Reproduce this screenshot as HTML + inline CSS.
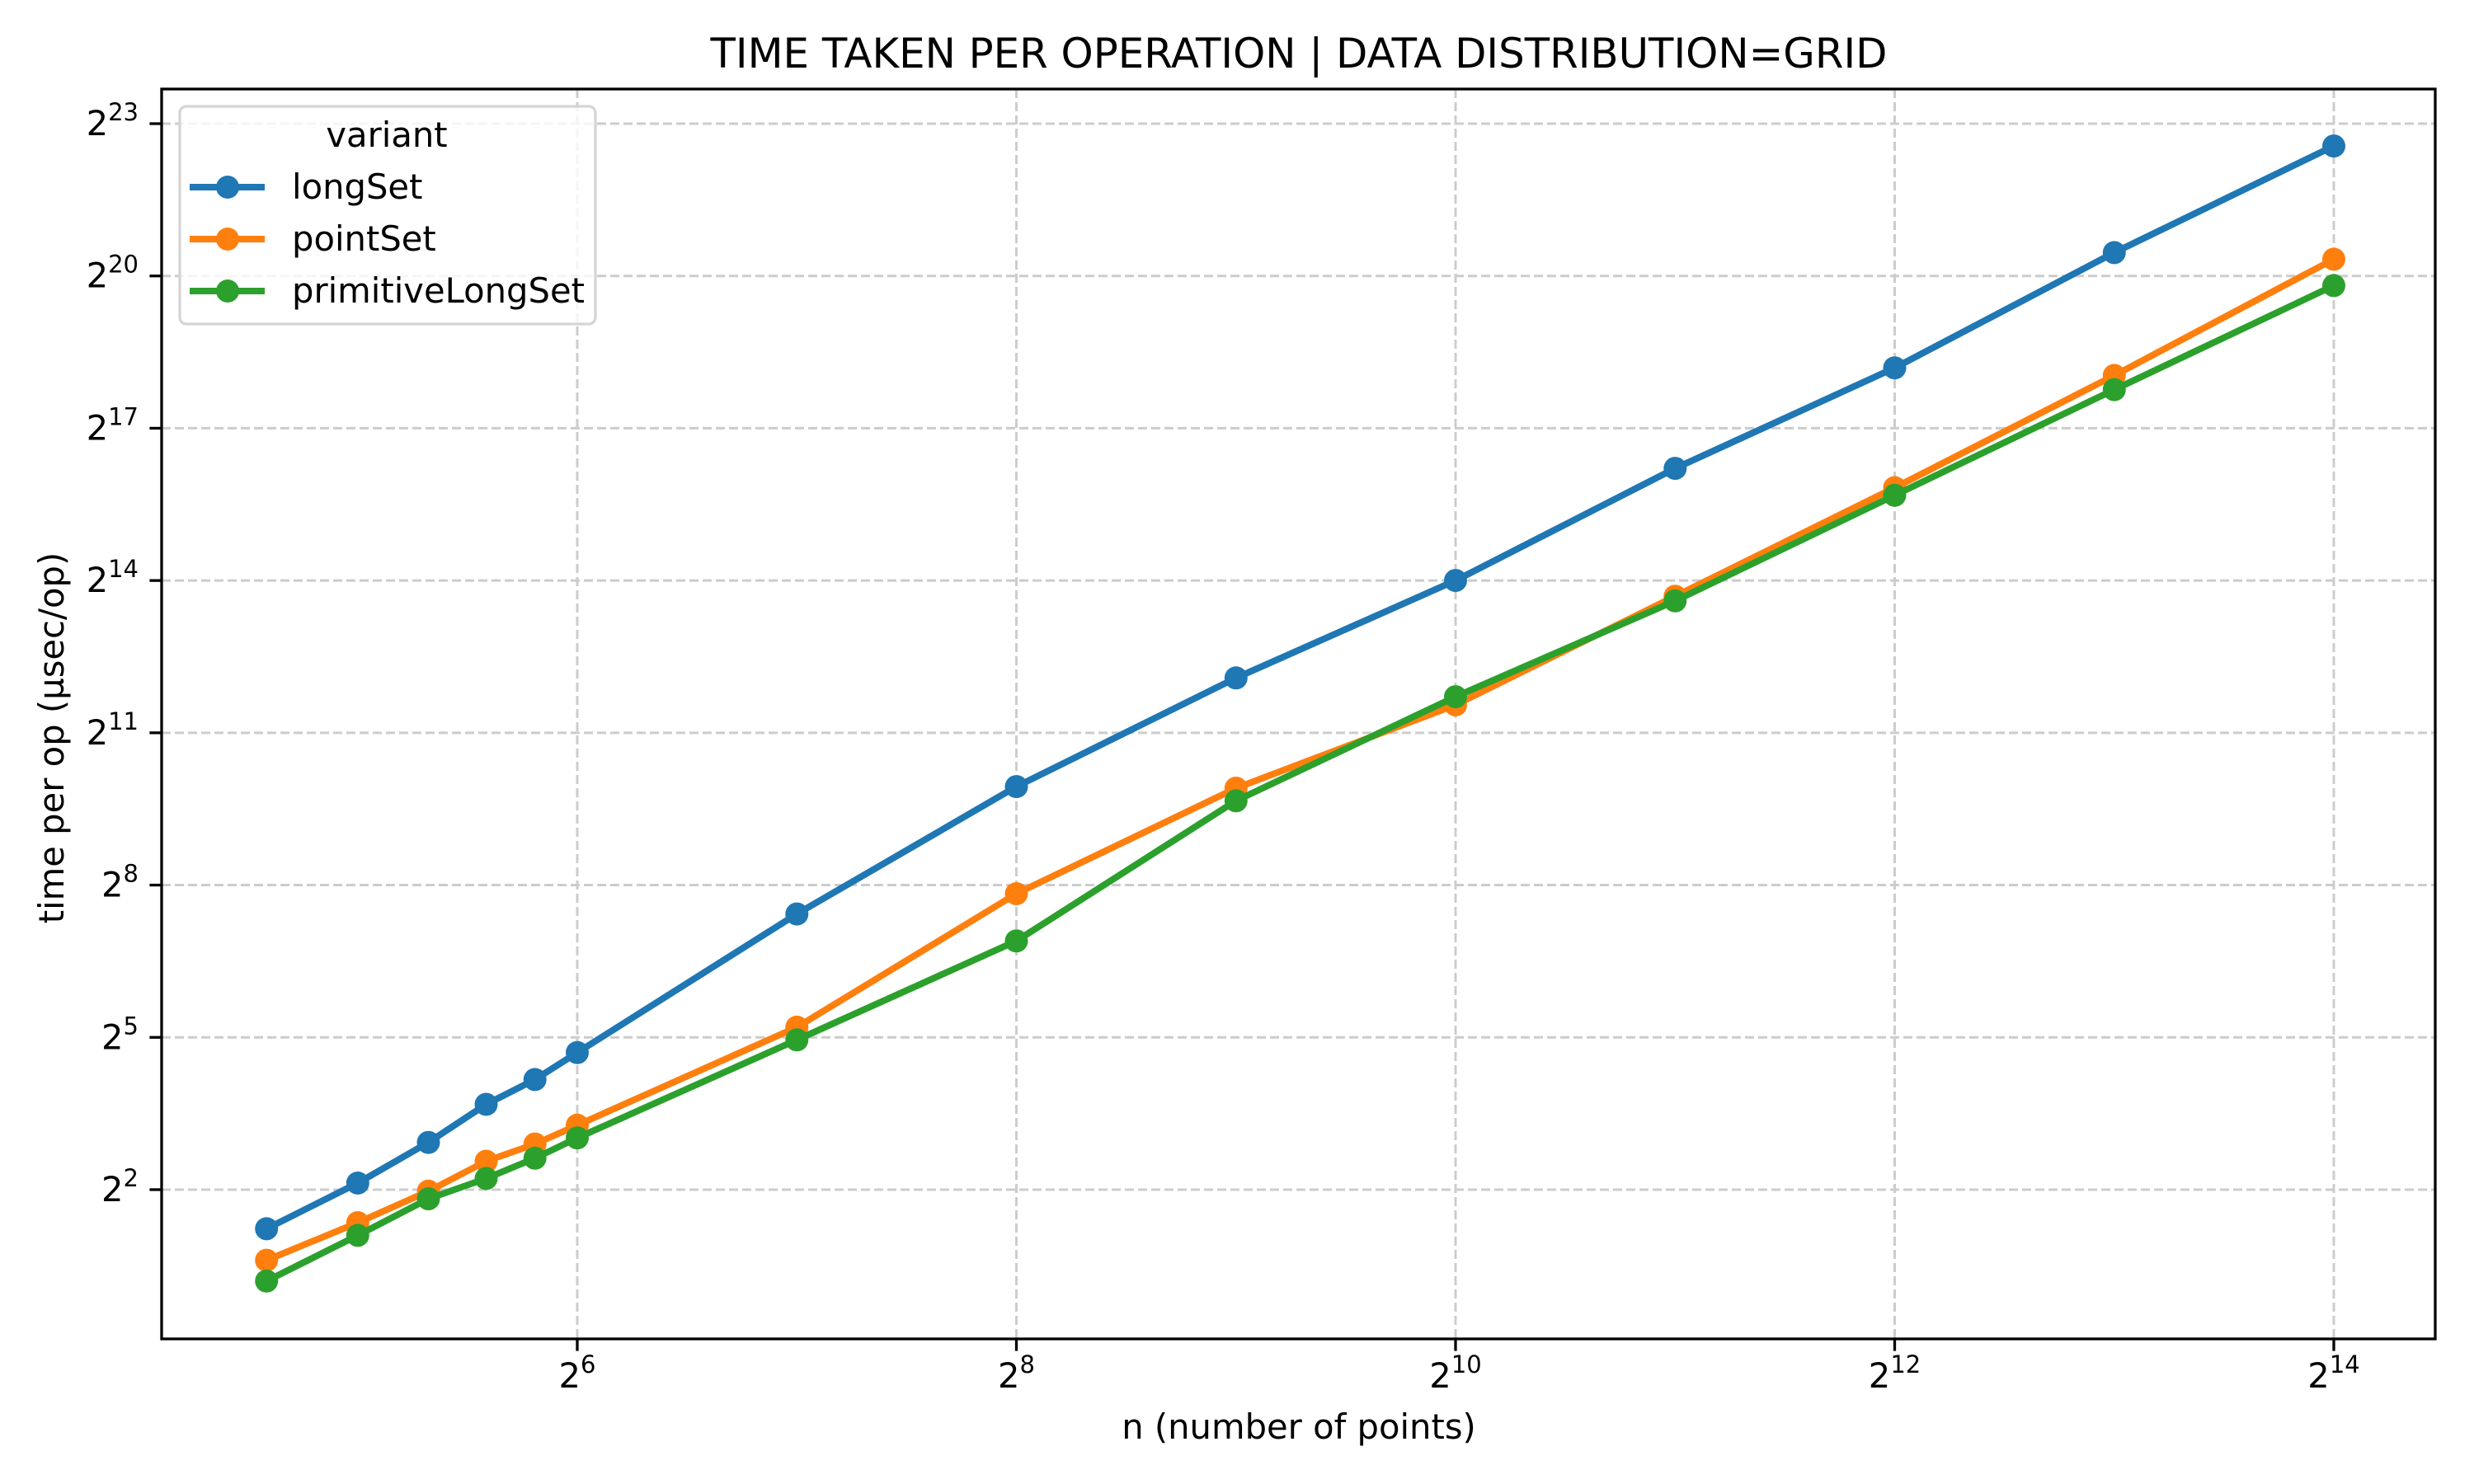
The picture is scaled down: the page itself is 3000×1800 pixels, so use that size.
<!DOCTYPE html>
<html><head><meta charset="utf-8"><style>html,body{margin:0;padding:0;background:#fff}svg{display:block}text{font-family:"DejaVu Sans","Liberation Sans",sans-serif;fill:#000}</style></head>
<body>
<svg id="s" width="3000" height="1800" viewBox="0 0 3000 1800" xmlns="http://www.w3.org/2000/svg"></svg>
<script>
const L=196,R=2953,T=108,B=1624;
const X=e=>700+(e-6)*266.25, Y=e=>150+(23-e)*61.57;
const lg=Math.log2;
const xs=[24,32,40,48,56,64,128,256,512,1024,2048,4096,8192,16384].map(lg);
const data={
'#1f77b4':[1.23,2.13,2.93,3.68,4.17,4.70,7.43,9.94,12.08,14.0,16.21,18.19,20.46,22.56],
'#ff7f0e':[0.61,1.35,1.97,2.56,2.90,3.27,5.20,7.83,9.91,11.55,13.69,15.83,18.04,20.33],
'#2ca02c':[0.20,1.10,1.82,2.22,2.62,3.02,4.95,6.90,9.66,11.71,13.60,15.68,17.76,19.81]};
let h='';
for(let e=6;e<=14;e+=2){let x=X(e);h+=`<line x1="${x}" y1="${T}" x2="${x}" y2="${B}" stroke="#cccccc" stroke-width="3" stroke-dasharray="11,5"/>`;}
for(let e=2;e<=23;e+=3){let y=Y(e);h+=`<line x1="${L}" y1="${y}" x2="${R}" y2="${y}" stroke="#cccccc" stroke-width="3" stroke-dasharray="11,5"/>`;}
for(const c in data){const p=data[c].map((v,i)=>X(xs[i]).toFixed(1)+','+Y(v).toFixed(1));
h+=`<polyline points="${p.join(' ')}" fill="none" stroke="${c}" stroke-width="8" stroke-linejoin="round"/>`;
p.forEach(q=>{const[a,b]=q.split(',');h+=`<circle cx="${a}" cy="${b}" r="14" fill="${c}"/>`;});}
h+=`<rect x="${L}" y="${T}" width="${R-L}" height="${B-T}" fill="none" stroke="#000" stroke-width="3.3"/>`;
for(let e=6;e<=14;e+=2){let x=X(e);h+=`<line x1="${x}" y1="${B}" x2="${x}" y2="${B+14.6}" stroke="#000" stroke-width="3.3"/><text x="${x}" y="1683" font-size="41.7" text-anchor="middle">2<tspan font-size="29" dy="-18">${e}</tspan></text>`;}
for(let e=2;e<=23;e+=3){let y=Y(e);h+=`<line x1="${L-14.6}" y1="${y}" x2="${L}" y2="${y}" stroke="#000" stroke-width="3.3"/><text x="168" y="${y+14}" font-size="41.7" text-anchor="end">2<tspan font-size="29" dy="-18">${e}</tspan></text>`;}
h+=`<text x="1575" y="82" font-size="50" text-anchor="middle" textLength="1427" lengthAdjust="spacingAndGlyphs">TIME TAKEN PER OPERATION | DATA DISTRIBUTION=GRID</text>`;
h+=`<text x="1575" y="1745" font-size="41.7" text-anchor="middle">n (number of points)</text>`;
h+=`<text transform="translate(77,895) rotate(-90)" font-size="41.7" text-anchor="middle">time per op (µsec/op)</text>`;
h+=`<rect x="218" y="129" width="504" height="264" rx="8" fill="#fff" fill-opacity="0.8" stroke="#d5d5d5" stroke-width="3.3"/>`;
h+=`<text x="469" y="178" font-size="41.7" text-anchor="middle">variant</text>`;
const names=['longSet','pointSet','primitiveLongSet'],cols=Object.keys(data);
names.forEach((n,i)=>{const y=227+i*63;h+=`<line x1="230" y1="${y}" x2="321" y2="${y}" stroke="${cols[i]}" stroke-width="8"/><circle cx="276" cy="${y}" r="14" fill="${cols[i]}"/><text x="354" y="${y+14}" font-size="41.7">${n}</text>`;});
document.getElementById('s').innerHTML=h;
</script>
</body></html>
